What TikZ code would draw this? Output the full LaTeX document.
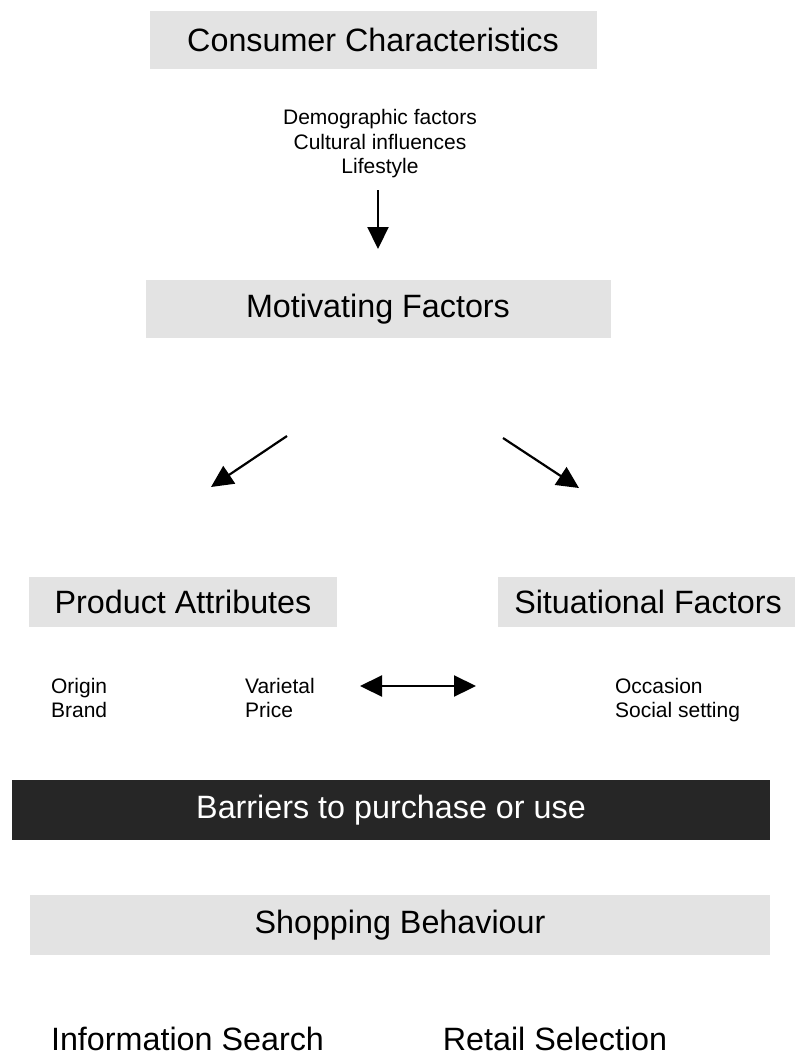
\documentclass[tikz,border=0pt]{standalone}
\usepackage{fontspec}
\setmainfont{Liberation Sans}
\usetikzlibrary{arrows.meta}
\tikzset{>={Triangle[width=21pt,length=22pt]}}

\begin{document}
\begin{tikzpicture}[x=1pt, y=-1pt, line width=2.2pt]

  \newcommand\BigTxt{\fontsize{32.3}{36}\selectfont}
  \newcommand\SmlTxt{\fontsize{21}{24.5}\selectfont}
  \tikzset{
    greybox/.style={fill=black!11, inner sep=0pt, minimum height=58pt, font=\BigTxt},
    darkbox/.style={fill=black!85, text=white, inner sep=0pt, minimum height=60pt, font=\BigTxt},
    lines/.style={inner sep=0pt, font=\SmlTxt, align=left, anchor=north west},
  }

  \useasboundingbox (0,0) rectangle (795,1058);

  % consumer
  \node[greybox, minimum width=447pt] (consumer) at (373,40) {Consumer Characteristics};
  \node[inner sep=0pt, font=\SmlTxt, align=center] (demog) at (380,144)
    {Demographic factors\\Cultural influences\\Lifestyle};
  \coordinate (d1) at (378,190);
  \coordinate (d2) at (378,249);
  \draw[->] (d1) -- (d2); % demog->motiv

  % motivating
  \node[greybox, minimum width=465pt] (motiv) at (378,309) {Motivating Factors};
  \coordinate (l1) at (287,436);
  \coordinate (l2) at (211,487);
  \coordinate (r1) at (503,438);
  \coordinate (r2) at (579,488);
  \draw[->] (l1) -- (l2); % motiv->product
  \draw[->] (r1) -- (r2); % motiv->situ

  % product / situational
  \node[greybox, minimum width=308pt, minimum height=50pt] (product) at (183,602) {Product Attributes};
  \node[greybox, minimum width=300pt, minimum height=50pt] (situ) at (648,602) {Situational Factors};
  \node[lines] (origin) at (50,677) {Origin\\Brand};
  \node[lines] (varietal) at (244,677) {Varietal\\Price};
  \node[lines] (occasion) at (614,677) {Occasion\\Social setting};
  \coordinate (b1) at (360,686);
  \coordinate (b2) at (476,686);
  \draw[<->] (b1) -- (b2); % product<->situ

  % barriers
  \node[darkbox, minimum width=758pt] (barriers) at (391,810) {Barriers to purchase or use};

  % shopping
  \node[greybox, minimum width=740pt, minimum height=60pt] (shopping) at (400,925) {Shopping Behaviour};
  \node[inner sep=0pt, font=\BigTxt] (info) at (187.5,1039) {Information Search};
  \node[inner sep=0pt, font=\BigTxt] (retail) at (555,1039) {Retail Selection};

\end{tikzpicture}
\end{document}
